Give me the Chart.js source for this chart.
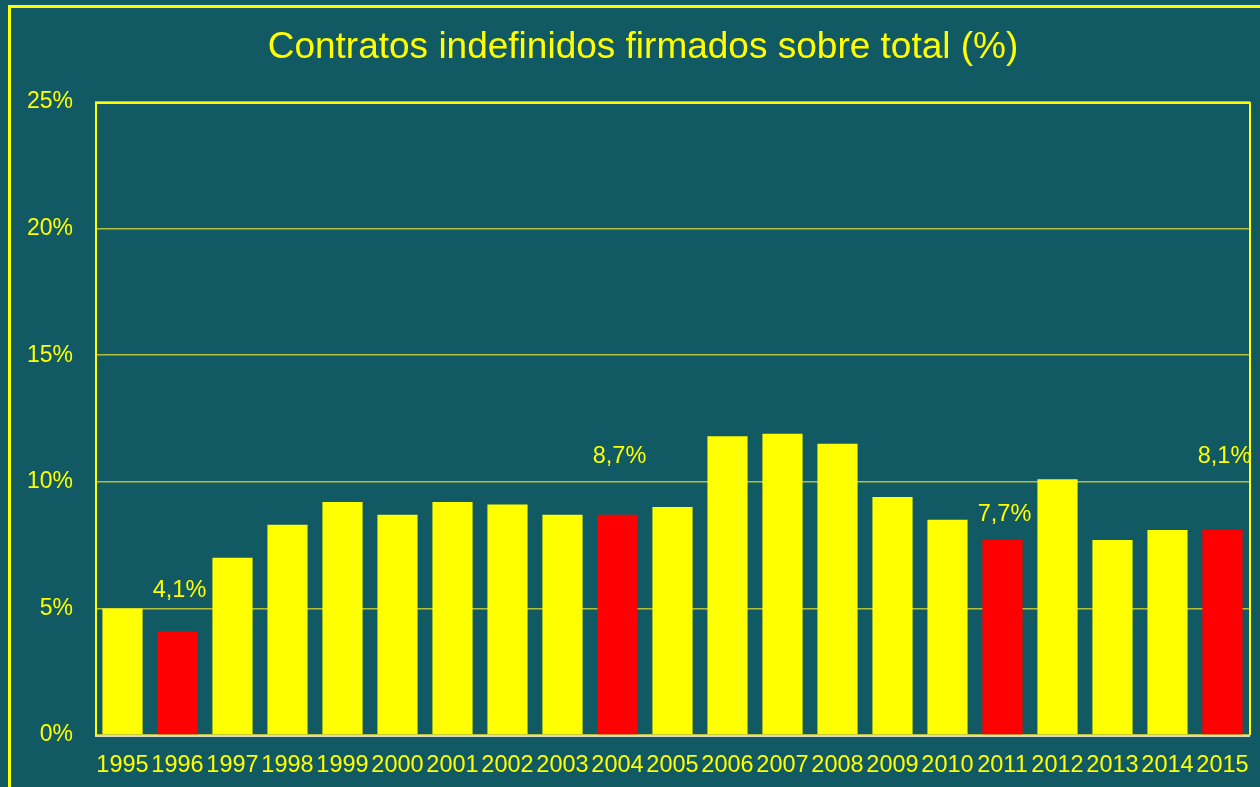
<!DOCTYPE html>
<html>
<head>
<meta charset="utf-8">
<script src="https://cdn.jsdelivr.net/npm/chart.js@4/dist/chart.umd.min.js"></script>
<style>
  html, body { margin: 0; padding: 0; background: #125A63; overflow: hidden; }
  #wrap { width: 1260px; height: 787px; }
</style>
</head>
<body>
<div id="wrap"><canvas id="contratosChart" width="1260" height="787"></canvas></div>
<script>
const years = ['1995','1996','1997','1998','1999','2000','2001','2002','2003','2004','2005',
               '2006','2007','2008','2009','2010','2011','2012','2013','2014','2015'];
const pctIndefinidos = [5.0, 4.1, 7.0, 8.3, 9.2, 8.7, 9.2, 9.1, 8.7, 8.7, 9.0,
                        11.8, 11.9, 11.5, 9.4, 8.5, 7.7, 10.1, 7.7, 8.1, 8.1];
const highlightYears = ['1996', '2004', '2011', '2015'];
const yTicks = [0, 5, 10, 15, 20, 25];
const titleText = 'Contratos indefinidos firmados sobre total (%)';

const YELLOW = '#FFFF00', RED = '#FF0000';
const FONT = '"Liberation Sans", Arial, sans-serif';

// label placement (value units) for the highlighted bars
const labelAt = { '1996': 5.7, '2004': 11.0, '2011': 8.7, '2015': 11.0 };

const fmt = v => v.toFixed(1).replace('.', ',') + '%';

const framePlugin = {
  id: 'frame',
  beforeDatasetsDraw(chart) {
    const { ctx, chartArea: a } = chart;
    ctx.save();
    ctx.strokeStyle = YELLOW;
    ctx.lineWidth = 3;
    ctx.strokeRect(9.5, 6.5, 3000, 3000);
    ctx.lineWidth = 2;
    ctx.beginPath();
    ctx.moveTo(a.left + 1, a.bottom);
    ctx.lineTo(a.left + 1, a.top + 1);
    ctx.lineTo(a.right, a.top + 1);
    ctx.lineTo(a.right, a.bottom);
    ctx.stroke();
    ctx.restore();
  },
  afterDatasetsDraw(chart) {
    const { ctx, chartArea: a } = chart;
    ctx.save();
    ctx.strokeStyle = '#D9D9C8';
    ctx.lineWidth = 2;
    ctx.beginPath();
    ctx.moveTo(a.left, a.bottom + 1);
    ctx.lineTo(a.right, a.bottom + 1);
    ctx.stroke();
    // title
    ctx.fillStyle = YELLOW;
    ctx.font = '37px ' + FONT;
    ctx.textAlign = 'center';
    ctx.textBaseline = 'middle';
    ctx.fillText(titleText, 643, 48);
    // value labels on highlighted bars
    const meta = chart.getDatasetMeta(0);
    const y = chart.scales.y;
    ctx.font = '23.5px ' + FONT;
    years.forEach((yr, i) => {
      if (!(yr in labelAt)) return;
      ctx.fillText(fmt(pctIndefinidos[i]), meta.data[i].x + 2, y.getPixelForValue(labelAt[yr]));
    });
    ctx.restore();
  }
};

new Chart(document.getElementById('contratosChart'), {
  type: 'bar',
  data: {
    labels: years,
    datasets: [{
      data: pctIndefinidos,
      backgroundColor: years.map(y => highlightYears.includes(y) ? RED : YELLOW),
      borderWidth: 0,
      barPercentage: 0.73,
      categoryPercentage: 1
    }]
  },
  options: {
    responsive: false,
    animation: false,
    layout: { padding: { top: 102, right: 10, left: 0, bottom: 0 } },
    plugins: { legend: { display: false }, tooltip: { enabled: false }, title: { display: false } },
    scales: {
      x: {
        grid: { display: false },
        border: { display: false },
        ticks: { color: YELLOW, font: { family: FONT, size: 23.5 }, padding: 8, autoSkip: false, maxRotation: 0 },
        afterFit: s => { s.height = 52; }
      },
      y: {
        min: 0, max: 25,
        afterBuildTicks: s => { s.ticks = yTicks.map(v => ({ value: v })); },
        grid: { color: '#B4BE3C', lineWidth: 1.5, drawTicks: false },
        border: { display: false },
        ticks: { color: YELLOW, font: { family: FONT, size: 23 }, padding: 22, callback: v => v + '%' },
        afterFit: s => { s.width = 95; }
      }
    }
  },
  plugins: [framePlugin]
});
</script>
</body>
</html>
